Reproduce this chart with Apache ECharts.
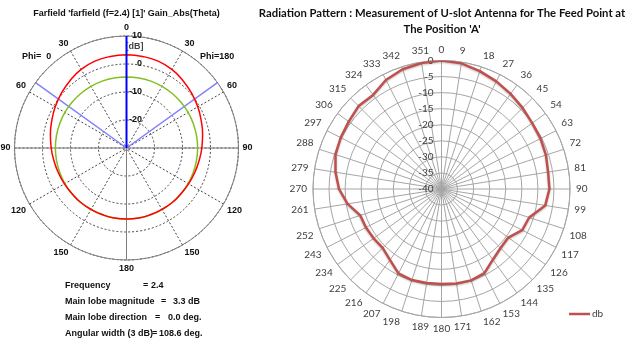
<!DOCTYPE html>
<html>
<head>
<meta charset="utf-8">
<script src="https://cdn.jsdelivr.net/npm/echarts@6/dist/echarts.min.js"></script>
<style>
  html, body { margin: 0; padding: 0; background: #fff; }
  #chart { width: 635px; height: 343px; }
</style>
</head>
<body>
<div id="chart"></div>
<script>
// ---- Left panel: simulated farfield cut (theta 0..180 on each side) ----
const thetaDeg   = [0, 10, 20, 30, 40, 50, 60, 70, 80, 90, 100, 110, 120, 130, 140, 150, 160, 170, 180];
const gainPhi0   = [3.3, 3.2, 3.0, 2.4, 1.4, 0.4, -0.6, -1.6, -2.4, -3.1, -3.7, -4.1, -4.4, -4.6, -4.6, -4.7, -4.7, -4.6, -4.6];
const gainPhi180 = [3.3, 3.2, 3.0, 2.4, 1.4, 0.4, -0.6, -1.6, -2.4, -3.1, -3.7, -4.1, -4.4, -4.6, -4.6, -4.7, -4.7, -4.6, -4.6];
const refPhi0    = [-4.6, -4.6, -4.6, -4.6, -4.6, -4.6, -4.6, -4.6, -4.6, -4.6, -4.6, -4.6, -4.6, -4.6, -4.6, -4.6, -4.6, -4.6, -4.6];
const refPhi180  = [-4.6, -4.6, -4.6, -4.6, -4.6, -4.6, -4.6, -4.6, -4.6, -4.6, -4.6, -4.6, -4.6, -4.6, -4.6, -4.6, -4.6, -4.6, -4.6];
const mainLobeDir   = 0;        // deg
const angularWidth  = 108.6;    // deg, 3 dB beamwidth
const ffUnitAt      = 5;        // where the "[dB]" tag sits on the radial scale
const infoNames  = ['Frequency', 'Main lobe magnitude', 'Main lobe direction', 'Angular width (3 dB)'];
const infoValues = ['2.4', '3.3 dB', '0.0 deg.', '108.6 deg.'];

// ---- Right panel: measured pattern, 9 degree steps ----
const measAngles = [0, 9, 18, 27, 36, 45, 54, 63, 72, 81, 90, 99, 108, 117, 126, 135, 144, 153, 162, 171,
                    180, 189, 198, 207, 216, 225, 234, 243, 252, 261, 270, 279, 288, 297, 306, 315, 324, 333, 342, 351];
const measDb = [0, -0.4, -1.4, -2.4, -3.4, -4.3, -5.1, -5.4, -5.8, -6.4,
                -6.4, -7.3, -11.3, -11.8, -14.3, -14.0, -12.8, -10.6, -10.1, -10.2,
                -10.4, -10.4, -10.2, -10.5, -12.7, -14.1, -13.9, -13.6, -13.4, -10.4,
                -8.1, -6.6, -5.3, -4.8, -4.3, -3.5, -3.8, -1.9, -0.8, -0.3];

const FF_MIN = -30, FF_MAX = 10;
const boldFont = '"Liberation Sans Narrow", "Liberation Sans", Arial, sans-serif';
const xlFont = 'Lato, "Open Sans", sans-serif';

// closed loop: Phi=0 half drawn counter-clockwise (left), Phi=180 half on the right
function loop(left, right) {
  const pts = thetaDeg.map((t, i) => [left[i], t]);
  for (let i = thetaDeg.length - 1; i >= 0; i--) pts.push([right[i], 360 - thetaDeg[i]]);
  return pts;
}
function spoke(angle) { return [[FF_MIN, angle], [FF_MAX, angle]]; }

const measLoop = measAngles.map((a, i) => [measDb[i], a]);
measLoop.push([measDb[0], 360]);

const chart = echarts.init(document.getElementById('chart'), null, { renderer: 'canvas' });

// info block under the farfield plot
const infoText = [];
const eqX = [143, 161, 155, 152];
const valX = [151, 173, 168, 159];
function txt(x, y, s) {
  return { type: 'text', x: x, y: y,
    style: { text: s, font: 'bold 9px ' + boldFont, fill: '#111', textVerticalAlign: 'middle' } };
}
infoNames.forEach((n, i) => {
  const y = 286 + i * 16;
  infoText.push(txt(65, y, n), txt(eqX[i], y, '='), txt(valX[i], y, infoValues[i]));
});

chart.setOption({
  animation: false,
  backgroundColor: '#ffffff',
  legend: {
    data: ['db'], left: 564, top: 304, icon: 'rect', itemWidth: 21, itemHeight: 2.5, itemGap: 4,
    textStyle: { color: '#404040', fontSize: 10, fontFamily: xlFont, padding: [0, 0, 0, -3] }
  },
  polar: [
    { center: [126.5, 148], radius: 112 },
    { center: [441.5, 189], radius: 128.5 }
  ],
  angleAxis: [
    {
      polarIndex: 0, type: 'value', min: 0, max: 360, interval: 30,
      startAngle: 90, clockwise: false,
      axisLine: { lineStyle: { color: '#808080', width: 1 } },
      axisTick: { show: false },
      splitLine: { lineStyle: { color: '#444', type: [2, 2], width: 1 } },
      axisLabel: {
        margin: 4, color: '#111', fontSize: 9, fontWeight: 'bold', fontFamily: boldFont,
        formatter: v => (v >= 360 ? '' : String(v > 180 ? 360 - v : v))
      }
    },
    {
      polarIndex: 1, type: 'value', min: 0, max: 360, interval: 9,
      startAngle: 90, clockwise: true,
      axisLine: { lineStyle: { color: '#a6a6a6', width: 1 } },
      axisTick: { show: false },
      splitLine: { lineStyle: { color: '#a6a6a6', width: 1 } },
      axisLabel: {
        margin: 6, color: '#404040', fontSize: 10, fontFamily: xlFont,
        formatter: v => (v >= 360 ? '' : String(v))
      }
    }
  ],
  radiusAxis: [
    {
      polarIndex: 0, min: FF_MIN, max: FF_MAX, interval: 10,
      axisLine: { show: false }, axisTick: { show: false },
      axisLabel: {
        margin: -15.5, align: 'right', padding: [0, 0, 7, 0],
        color: '#111', fontSize: 9, fontWeight: 'bold', fontFamily: boldFont,
        formatter: v => (v === FF_MIN ? '' : String(v))
      },
      splitLine: { lineStyle: { color: '#444', type: [2, 2], width: 1 } }
    },
    {
      polarIndex: 1, min: -40, max: 0, interval: 5,
      axisLine: { show: false }, axisTick: { show: false },
      axisLabel: { color: '#404040', fontSize: 10, fontFamily: xlFont },
      splitLine: { lineStyle: { color: '#a6a6a6', width: 1 } }
    }
  ],
  graphic: [
    { type: 'text', x: 126.5, y: 14, style: { text: "Farfield 'farfield (f=2.4) [1]' Gain_Abs(Theta)",
      font: 'bold 9px ' + boldFont, fill: '#111', textAlign: 'center', textVerticalAlign: 'middle' } },
    { type: 'text', x: 22, y: 57, style: { text: 'Phi=  0', font: 'bold 9px ' + boldFont, fill: '#111', textVerticalAlign: 'middle' } },
    { type: 'text', x: 200, y: 57, style: { text: 'Phi=180', font: 'bold 9px ' + boldFont, fill: '#111', textVerticalAlign: 'middle' } },
    { type: 'text', x: 442, y: 13, style: { text: "Radiation Pattern : Measurement of U-slot Antenna for The Feed Point at",
      font: 'bold 11.3px ' + xlFont, fill: '#111', textAlign: 'center', textVerticalAlign: 'middle' } },
    { type: 'text', x: 442, y: 29, style: { text: "The Position 'A'",
      font: 'bold 11.3px ' + xlFont, fill: '#111', textAlign: 'center', textVerticalAlign: 'middle' } }
  ].concat(infoText),
  series: [
    // solid cross-hair spokes
    { type: 'line', coordinateSystem: 'polar', polarIndex: 0, symbol: 'none', silent: true,
      data: spoke(90), lineStyle: { color: '#808080', width: 1 } },
    { type: 'line', coordinateSystem: 'polar', polarIndex: 0, symbol: 'none', silent: true,
      data: spoke(270), lineStyle: { color: '#808080', width: 1 } },
    { type: 'line', coordinateSystem: 'polar', polarIndex: 0, symbol: 'none', silent: true,
      data: spoke(180), lineStyle: { color: '#808080', width: 1 } },
    // 3 dB beam edges
    { type: 'line', coordinateSystem: 'polar', polarIndex: 0, symbol: 'none', silent: true,
      data: spoke(mainLobeDir + angularWidth / 2), lineStyle: { color: '#8080ff', width: 1.5 } },
    { type: 'line', coordinateSystem: 'polar', polarIndex: 0, symbol: 'none', silent: true,
      data: spoke(360 - angularWidth / 2), lineStyle: { color: '#8080ff', width: 1.5 } },
    // reference cut
    { type: 'line', coordinateSystem: 'polar', polarIndex: 0, symbol: 'none', smooth: true, silent: true,
      data: loop(refPhi0, refPhi180), lineStyle: { color: '#80c020', width: 1.5 } },
    // gain cut
    { type: 'line', coordinateSystem: 'polar', polarIndex: 0, symbol: 'none', smooth: true, silent: true,
      data: loop(gainPhi0, gainPhi180), lineStyle: { color: '#ff0000', width: 1.5 } },
    // main lobe direction
    { type: 'line', coordinateSystem: 'polar', polarIndex: 0, symbol: 'none', silent: true,
      data: spoke(mainLobeDir), lineStyle: { color: '#0000ff', width: 2 } },
    // unit tag on the radial scale
    { type: 'scatter', coordinateSystem: 'polar', polarIndex: 0, symbolSize: 0, silent: true, clip: false,
      data: [[ffUnitAt, mainLobeDir]],
      label: { show: true, position: [17, -3], align: 'right', verticalAlign: 'middle',
        color: '#111', fontSize: 9, fontWeight: 'bold', fontFamily: boldFont, formatter: '[dB]' } },
    // measured pattern
    { name: 'db', type: 'line', coordinateSystem: 'polar', polarIndex: 1, symbol: 'none',
      data: measLoop,
      lineStyle: { color: '#c0504d', width: 2.5, shadowColor: 'rgba(0,0,0,0.25)', shadowBlur: 2, shadowOffsetY: 1 },
      itemStyle: { color: '#c0504d' } }
  ]
});
</script>
</body>
</html>
